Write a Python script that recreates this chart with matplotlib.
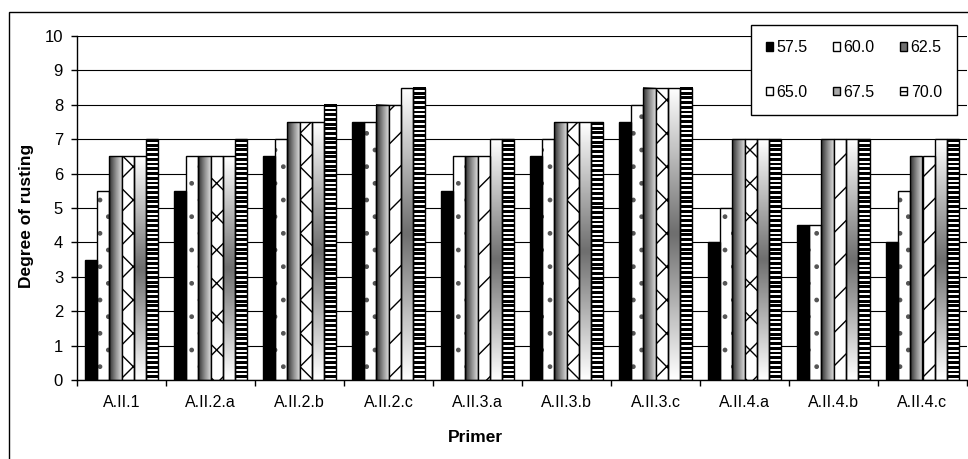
import numpy as np
import matplotlib
matplotlib.use('Agg')
import matplotlib.pyplot as plt
from matplotlib.colors import LinearSegmentedColormap, ListedColormap
from matplotlib.patches import Patch, Rectangle

categories = ['A.II.1', 'A.II.2.a', 'A.II.2.b', 'A.II.2.c', 'A.II.3.a',
              'A.II.3.b', 'A.II.3.c', 'A.II.4.a', 'A.II.4.b', 'A.II.4.c']
series_labels = ['57.5', '60.0', '62.5', '65.0', '67.5', '70.0']
s_57_5 = [3.5, 5.5, 6.5, 7.5, 5.5, 6.5, 7.5, 4.0, 4.5, 4.0]
s_60_0 = [5.5, 6.5, 7.0, 7.5, 6.5, 7.0, 8.0, 5.0, 4.5, 5.5]
s_62_5 = [6.5, 6.5, 7.5, 8.0, 6.5, 7.5, 8.5, 7.0, 7.0, 6.5]
s_65_0 = [6.5, 6.5, 7.5, 8.0, 6.5, 7.5, 8.5, 7.0, 7.0, 6.5]
s_67_5 = [6.5, 6.5, 7.5, 8.5, 7.0, 7.5, 8.5, 7.0, 7.0, 7.0]
s_70_0 = [7.0, 7.0, 8.0, 8.5, 7.0, 7.5, 8.5, 7.0, 7.0, 7.0]
series = [s_57_5, s_60_0, s_62_5, s_65_0, s_67_5, s_70_0]
yticks = list(range(0, 11))

plt.rcParams['font.family'] = ['Liberation Sans', 'DejaVu Sans']

fig = plt.figure(figsize=(9.68, 4.59), dpi=100)
W, H = 968, 459
ax = fig.add_axes([77 / W, 1 - 380 / H, (967 - 77) / W, (380 - 36) / H])
px_per_unit = (380 - 36) / 10.0

x = np.arange(len(categories))
width = 0.135
offsets = (np.arange(6) - 2.5) * width

cmap_h = LinearSegmentedColormap.from_list('h', ['#2e2e2e', '#8a8a8a', '#dcdcdc'])
cmap_v = LinearSegmentedColormap.from_list('v', ['#ffffff', '#6e6e6e'])
cmap_s = ListedColormap(['white', 'black'])
hatch_65 = ['x', 'x', 'x', '/', '/', 'x', 'x', 'x', '/', '/']

for j, vals in enumerate(series):
    xs = x + offsets[j]
    if j == 0:
        ax.bar(xs, vals, width, color='black', edgecolor='black', lw=1, zorder=3)
    elif j == 1:
        ax.bar(xs, vals, width, facecolor='white', edgecolor='#555555',
               lw=0, hatch='.', zorder=2)
        ax.bar(xs, vals, width, facecolor='none', edgecolor='black', lw=1, zorder=3)
    elif j == 2:
        bars = ax.bar(xs, vals, width, facecolor='none', edgecolor='black',
                      lw=1, zorder=3)
        grad = np.linspace(0, 1, 64).reshape(1, -1)
        for b in bars:
            ax.imshow(grad, extent=[b.get_x(), b.get_x() + b.get_width(), 0, b.get_height()],
                      cmap=cmap_h, aspect='auto', interpolation='bilinear', zorder=2)
    elif j == 3:
        bars = ax.bar(xs, vals, width, facecolor='white', edgecolor='black',
                      lw=1, zorder=3)
        for b, h in zip(bars, hatch_65):
            b.set_hatch(h)
    elif j == 4:
        bars = ax.bar(xs, vals, width, facecolor='none', edgecolor='black',
                      lw=1, zorder=3)
        t = np.linspace(0, 1, 128)
        grad = (1 - np.abs(t - 0.5) * 2).reshape(-1, 1)
        for b in bars:
            ax.imshow(grad, extent=[b.get_x(), b.get_x() + b.get_width(), 0, b.get_height()],
                      cmap=cmap_v, vmin=0, vmax=1, aspect='auto',
                      interpolation='bilinear', zorder=2)
    else:
        bars = ax.bar(xs, vals, width, facecolor='none', edgecolor='black',
                      lw=1, zorder=3)
        for b in bars:
            n = int(round(b.get_height() * px_per_unit / 4.7))
            stripe = np.tile([1, 1, 1, 0, 0], n).reshape(-1, 1)
            ax.imshow(stripe, extent=[b.get_x(), b.get_x() + b.get_width(), 0, b.get_height()],
                      cmap=cmap_s, vmin=0, vmax=1, aspect='auto',
                      interpolation='nearest', zorder=2)

ax.set_xlim(-0.5, len(categories) - 0.5)
ax.set_ylim(0, 10)
ax.set_yticks(yticks)
ax.yaxis.grid(True, color='black', lw=0.8, zorder=0)
ax.set_axisbelow(True)
for s in ['top', 'right']:
    ax.spines[s].set_visible(False)
for s in ['left', 'bottom']:
    ax.spines[s].set_color('black')
    ax.spines[s].set_linewidth(1)
    ax.spines[s].set_zorder(4)

ax.set_xticks(x)
ax.set_xticklabels(categories, fontsize=11.5)
ax.set_xticks(np.arange(-0.5, len(categories)), minor=True)
ax.tick_params(axis='x', which='major', length=0, pad=11)
ax.tick_params(axis='x', which='minor', length=4, width=1, direction='out')
ax.tick_params(axis='y', length=4, width=1, direction='out', labelsize=12, pad=6)

fig.text(27 / W, 1 - 216 / H, 'Degree of rusting', rotation=90, ha='center',
         va='center', fontsize=12.5, fontweight='bold')
fig.text(475 / W, 1 - 437 / H, 'Primer', ha='center', va='center',
         fontsize=12.5, fontweight='bold')

# legend
handles = [Patch(facecolor='black', edgecolor='black'),
           Patch(facecolor='white', edgecolor='black'),
           Patch(facecolor='#707070', edgecolor='black'),
           Patch(facecolor='white', edgecolor='black'),
           Patch(facecolor='#a8a8a8', edgecolor='black'),
           Patch(facecolor='white', edgecolor='black', hatch='---')]
order = [0, 3, 1, 4, 2, 5]
leg = ax.legend([handles[i] for i in order], [series_labels[i] for i in order],
                ncol=3, loc='upper left', bbox_to_anchor=(751 / W, 1 - 25 / H),
                bbox_transform=fig.transFigure, frameon=True, fancybox=False,
                edgecolor='black', framealpha=1, fontsize=11.5, handlelength=0.45,
                handleheight=0.45, handletextpad=0.2, columnspacing=1.6,
                labelspacing=1.85, borderpad=0.95, borderaxespad=0)
leg.get_frame().set_linewidth(1)
leg.set_zorder(10)

fig.patches.append(Rectangle((9 / W, -0.1), 1.2, 1 - 12 / H + 0.1,
                             transform=fig.transFigure, fill=False,
                             edgecolor='black', lw=1))

fig.savefig('out.png', dpi=100)
